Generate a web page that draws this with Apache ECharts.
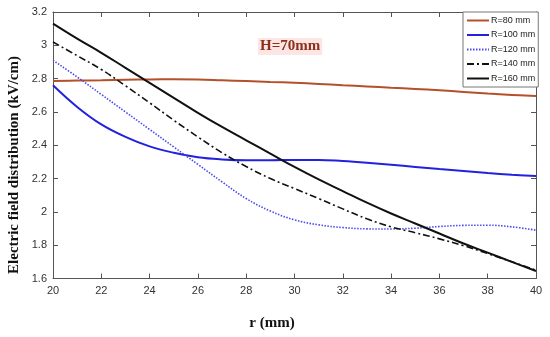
<!DOCTYPE html>
<html><head><meta charset="utf-8">
<script src="https://cdn.jsdelivr.net/npm/echarts@6/dist/echarts.min.js"></script>
<style>html,body{margin:0;padding:0;background:#fff}#c{width:550px;height:337px}</style>
</head><body><div id="c"></div>
<script>
var rValues = [20,21,22,23,24,25,26,27,28,29,30,31,32,33,34,35,36,37,38,39,40];
var seriesNames = ['R=80 mm','R=100 mm','R=120 mm','R=140 mm','R=160 mm'];
var r80  = [2.785,2.788,2.79,2.793,2.795,2.796,2.795,2.79,2.785,2.78,2.775,2.768,2.76,2.753,2.745,2.738,2.73,2.72,2.71,2.702,2.695];
var r100 = [2.76,2.63,2.525,2.45,2.393,2.355,2.328,2.315,2.31,2.31,2.312,2.312,2.305,2.295,2.283,2.27,2.257,2.245,2.233,2.223,2.215];
var r120 = [2.91,2.81,2.705,2.60,2.495,2.39,2.285,2.18,2.08,2.005,1.952,1.922,1.906,1.898,1.897,1.902,1.912,1.919,1.92,1.91,1.89];
var r140 = [3.02,2.938,2.855,2.757,2.655,2.55,2.45,2.355,2.272,2.20,2.14,2.08,2.018,1.958,1.91,1.875,1.838,1.797,1.75,1.70,1.65];
var r160 = [3.13,3.04,2.955,2.865,2.775,2.685,2.595,2.51,2.43,2.35,2.27,2.195,2.125,2.055,1.99,1.93,1.87,1.81,1.755,1.70,1.645];
var xTicks = {min:20, max:40, interval:2};
var yTicks = {min:1.6, max:3.2, interval:0.2};
var annotation = 'H=70mm';
var xTitle = 'r (mm)';
var yTitle = 'Electric field distribution (kV/cm)';

function pairs(arr){ return rValues.map(function(x,i){ return [x, arr[i]]; }); }
var serif = '"Liberation Serif","DejaVu Serif",serif';
var narrow = '"Liberation Sans Narrow","Arial Narrow","Liberation Sans",sans-serif';
var axisCol = '#555';
var chart = echarts.init(document.getElementById('c'));
var base = {
  axisLine:{show:true,lineStyle:{color:axisCol,width:1}},
  axisTick:{show:true,inside:true,length:5,lineStyle:{color:axisCol}},
  splitLine:{show:false}
};
chart.setOption({
  animation:false,
  grid:{left:53,right:14,top:12,bottom:58.5,containLabel:false},
  xAxis:[
    Object.assign({type:'value',position:'bottom',min:xTicks.min,max:xTicks.max,interval:xTicks.interval,
      axisLabel:{color:'#333',fontSize:11,fontFamily:narrow,margin:7}},base),
    Object.assign({type:'value',position:'top',min:xTicks.min,max:xTicks.max,interval:xTicks.interval,
      axisLabel:{show:false}},base)
  ],
  yAxis:[
    Object.assign({type:'value',position:'left',min:yTicks.min,max:yTicks.max,interval:yTicks.interval,
      axisLabel:{color:'#333',fontSize:11,fontFamily:narrow,margin:6}},base),
    Object.assign({type:'value',position:'right',min:yTicks.min,max:yTicks.max,interval:yTicks.interval,
      axisLabel:{show:false}},base)
  ],
  legend:{
    orient:'vertical',left:463,top:12,width:72,
    padding:[4,3,4,3],itemGap:5.5,itemWidth:22,itemHeight:10,
    backgroundColor:'#fff',borderColor:'#777',borderWidth:1,
    itemStyle:{color:'rgba(0,0,0,0)',borderWidth:0,opacity:0},
    textStyle:{fontSize:9,fontFamily:narrow,color:'#222',padding:[0,0,0,-3]},
    data:seriesNames
  },
  graphic:[
    {type:'text',left:258,top:38,
      style:{text:annotation,font:'bold 15px '+serif,fill:'#8c2f1c',backgroundColor:'#fbe6e4',padding:[1,2]}},
    {type:'text',x:272,y:323,
      style:{text:xTitle,font:'bold 15px '+serif,fill:'#111',align:'center',verticalAlign:'middle'}},
    {type:'text',x:14,y:165,rotation:Math.PI/2,
      style:{text:yTitle,font:'bold 15px '+serif,fill:'#111',align:'center',verticalAlign:'middle'}}
  ],
  series:[
    {name:seriesNames[0],type:'line',data:pairs(r80),symbol:'none',smooth:0.4,lineStyle:{color:'#b4502a',width:2},itemStyle:{color:'#b4502a'}},
    {name:seriesNames[1],type:'line',data:pairs(r100),symbol:'none',smooth:0.4,lineStyle:{color:'#2222dd',width:2},itemStyle:{color:'#2222dd'}},
    {name:seriesNames[2],type:'line',data:pairs(r120),symbol:'none',smooth:0.4,lineStyle:{color:'#4a4af0',width:1.6,type:[1.5,1.5]},itemStyle:{color:'#4a4af0'}},
    {name:seriesNames[3],type:'line',data:pairs(r140),symbol:'none',smooth:0.4,lineStyle:{color:'#111',width:1.6,type:[7,3,2,3]},itemStyle:{color:'#111'}},
    {name:seriesNames[4],type:'line',data:pairs(r160),symbol:'none',smooth:0.4,lineStyle:{color:'#111',width:2},itemStyle:{color:'#111'}}
  ]
});
</script></body></html>
